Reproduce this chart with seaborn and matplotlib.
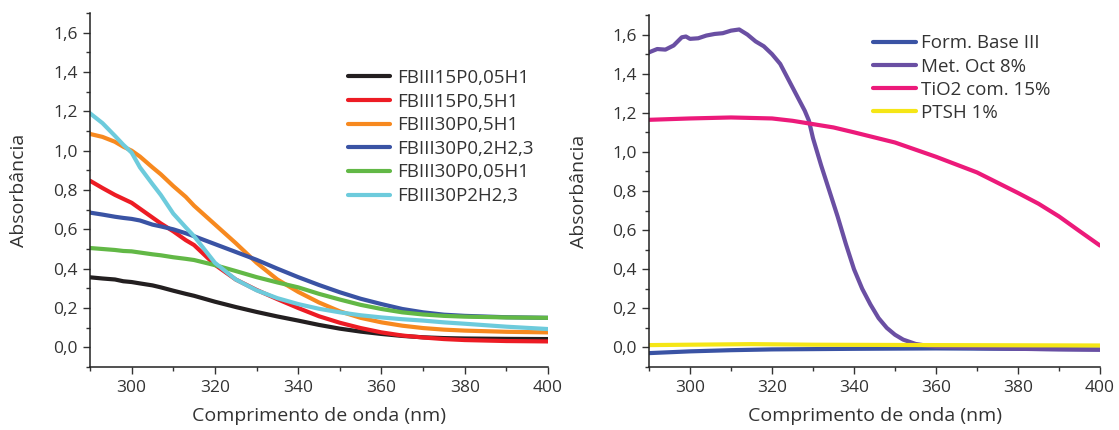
import numpy as np
import pandas as pd
import matplotlib
matplotlib.use("Agg")
import matplotlib.pyplot as plt
from matplotlib.ticker import MultipleLocator, FuncFormatter
import seaborn as sns

# ---------------- data ----------------
wl_left = [290, 293, 296, 298, 300, 302, 305, 307, 310, 313, 315, 320, 325, 330, 335,
           340, 345, 350, 355, 360, 365, 370, 375, 380, 390, 400]

fb15_005 = [0.356, 0.350, 0.345, 0.336, 0.332, 0.325, 0.315, 0.305, 0.288, 0.272, 0.262, 0.232,
            0.205, 0.180, 0.157, 0.136, 0.114, 0.095, 0.080, 0.068, 0.058, 0.051, 0.047, 0.045,
            0.043, 0.042]
fb15_05 = [0.847, 0.810, 0.775, 0.755, 0.735, 0.705, 0.660, 0.630, 0.590, 0.545, 0.520, 0.420,
           0.345, 0.292, 0.245, 0.200, 0.158, 0.125, 0.098, 0.076, 0.060, 0.050, 0.042, 0.037,
           0.032, 0.030]
fb30_05 = [1.085, 1.070, 1.045, 1.020, 1.000, 0.970, 0.915, 0.880, 0.820, 0.765, 0.720, 0.625,
           0.530, 0.430, 0.345, 0.282, 0.228, 0.183, 0.150, 0.127, 0.110, 0.098, 0.090, 0.085,
           0.079, 0.076]
fb30_02 = [0.685, 0.675, 0.664, 0.658, 0.653, 0.645, 0.624, 0.615, 0.600, 0.580, 0.565, 0.525,
           0.485, 0.445, 0.400, 0.357, 0.317, 0.280, 0.247, 0.220, 0.195, 0.178, 0.166, 0.160,
           0.153, 0.150]
fb30_005 = [0.505, 0.500, 0.495, 0.490, 0.488, 0.482, 0.473, 0.468, 0.458, 0.450, 0.444, 0.418,
            0.388, 0.357, 0.330, 0.305, 0.272, 0.243, 0.216, 0.195, 0.178, 0.167, 0.160, 0.156,
            0.152, 0.150]
fb30_2 = [1.190, 1.140, 1.075, 1.030, 0.990, 0.915, 0.830, 0.775, 0.680, 0.610, 0.565, 0.430,
          0.345, 0.290, 0.250, 0.220, 0.196, 0.178, 0.163, 0.152, 0.143, 0.136, 0.127, 0.120,
          0.105, 0.093]

labels_left = ["FBIII15P0,05H1", "FBIII15P0,5H1", "FBIII30P0,5H1",
               "FBIII30P0,2H2,3", "FBIII30P0,05H1", "FBIII30P2H2,3"]
colors_left = ["#231f20", "#ed1c24", "#f7891f", "#3a53a4", "#62b846", "#6dcbdc"]

wl_base = [290, 300, 310, 320, 340, 360, 380, 400]
form_base = [-0.029, -0.020, -0.014, -0.010, -0.007, -0.005, -0.007, -0.010]

wl_met = [290, 292, 294, 296, 298, 299, 300, 302, 304, 306, 308, 310, 312, 314, 316, 318,
          320, 322, 324, 326, 328, 329, 330, 331, 332, 334, 336, 337, 338, 340, 342, 344,
          346, 348, 350, 352, 355, 358, 360, 370, 380, 390, 400]
met_oct = [1.509, 1.526, 1.523, 1.544, 1.586, 1.590, 1.578, 1.581, 1.595, 1.603, 1.607, 1.620,
           1.626, 1.600, 1.565, 1.540, 1.500, 1.450, 1.370, 1.290, 1.210, 1.160, 1.070, 1.000,
           0.930, 0.800, 0.670, 0.600, 0.530, 0.400, 0.300, 0.220, 0.150, 0.100, 0.065, 0.040,
           0.018, 0.008, 0.003, -0.003, -0.007, -0.010, -0.012]

wl_tio = [290, 300, 310, 320, 325, 330, 335, 340, 345, 350, 360, 370, 380, 385, 390, 395, 400]
tio2 = [1.164, 1.171, 1.176, 1.171, 1.159, 1.142, 1.125, 1.100, 1.074, 1.048, 0.975, 0.895,
        0.790, 0.735, 0.670, 0.595, 0.521]

wl_ptsh = [290, 300, 315, 330, 360, 400]
ptsh = [0.012, 0.014, 0.017, 0.014, 0.012, 0.010]

labels_right = ["Form. Base III", "Met. Oct 8%", "TiO2 com. 15%", "PTSH 1%"]
colors_right = ["#3a53a4", "#6a4fa3", "#ec1a7a", "#f5e616"]

xticks = [300, 320, 340, 360, 380, 400]
yticks = [0.0, 0.2, 0.4, 0.6, 0.8, 1.0, 1.2, 1.4, 1.6]

# ---------------- style ----------------
sns.set_style("ticks")
plt.rcParams["font.family"] = ["Open Sans", "DejaVu Sans"]
plt.rcParams["text.color"] = "#333333"
plt.rcParams["axes.labelcolor"] = "#333333"
plt.rcParams["xtick.color"] = "#333333"
plt.rcParams["ytick.color"] = "#333333"

fig = plt.figure(figsize=(11.19, 4.30), dpi=100)
ax1 = fig.add_axes([90 / 1119, 1 - 367 / 430, (548 - 90) / 1119, (367 - 13) / 430])
ax2 = fig.add_axes([649 / 1119, 1 - 367 / 430, (1100 - 649) / 1119, (367 - 15) / 430])

left_series = [fb15_005, fb15_05, fb30_05, fb30_02, fb30_005, fb30_2]
for ys, lab, col in zip(left_series, labels_left, colors_left):
    sns.lineplot(x=wl_left, y=ys, ax=ax1, color=col, lw=3, label=lab)

right_series = [(wl_base, form_base), (wl_met, met_oct), (wl_tio, tio2), (wl_ptsh, ptsh)]
for (xs, ys), lab, col in zip(right_series, labels_right, colors_right):
    sns.lineplot(x=xs, y=ys, ax=ax2, color=col, lw=3, label=lab)

fmt = FuncFormatter(lambda v, p: f"{v:.1f}".replace(".", ","))
for ax, lp in ((ax1, 18), (ax2, 17)):
    ax.set_xlim(290, 400)
    ax.set_ylim(-0.1, 1.7)
    ax.set_xticks(xticks)
    ax.set_yticks(yticks)
    ax.yaxis.set_major_formatter(fmt)
    ax.xaxis.set_minor_locator(MultipleLocator(10))
    ax.yaxis.set_minor_locator(MultipleLocator(0.1))
    ax.tick_params(which="major", direction="out", length=5, width=1, labelsize=12.5, pad=4)
    ax.tick_params(which="minor", direction="out", length=3, width=1)
    for s in ("top", "right"):
        ax.spines[s].set_visible(False)
    for s in ("left", "bottom"):
        ax.spines[s].set_color("#222222")
        ax.spines[s].set_linewidth(1.1)
    ax.set_xlabel("Comprimento de onda (nm)", fontsize=14, labelpad=8)
    ax.set_ylabel("Absorbância", fontsize=14, labelpad=lp)

ax1.legend(loc="upper left", bbox_to_anchor=(0.546, 0.863), frameon=False, fontsize=13.5,
           handlelength=2.25, handletextpad=0.37, labelspacing=0.3, borderaxespad=0)
ax2.legend(loc="upper left", bbox_to_anchor=(0.481, 0.966), frameon=False, fontsize=13.5,
           handlelength=2.25, handletextpad=0.3, labelspacing=0.27, borderaxespad=0)

fig.savefig("out.png", dpi=100)
